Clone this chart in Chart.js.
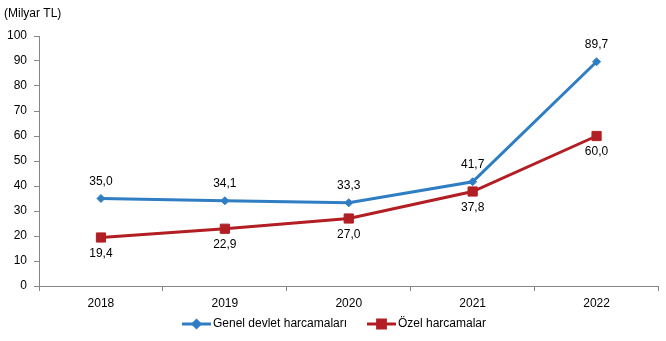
<!DOCTYPE html>
<html lang="tr">
<head>
  <meta charset="UTF-8" />
  <title>Harcamalar</title>
  <style>
    html, body {
      margin: 0;
      padding: 0;
      background: #fff;
    }
    #wrap {
      width: 666px;
      height: 341px;
      position: relative;
    }
  </style>
</head>
<body>
  <div id="wrap"><canvas id="chart"></canvas></div>

  <script src="https://cdn.jsdelivr.net/npm/chart.js"></script>
  <script>
    const years = ['2018', '2019', '2020', '2021', '2022'];
    const genelDevlet = [35.0, 34.1, 33.3, 41.7, 89.7];
    const ozel = [19.4, 22.9, 27.0, 37.8, 60.0];
    const seriesNames = ['Genel devlet harcamaları', 'Özel harcamalar'];
    const unitLabel = '(Milyar TL)';

    const blue = '#2f7dc2';
    const red = '#b21e23';
    const font = 'Liberation Sans, Arial, Helvetica, sans-serif';

    Chart.defaults.font.family = font;
    Chart.defaults.font.size = 12;
    Chart.defaults.color = '#000';

    function fmt(v) {
      return v.toFixed(1).replace('.', ',');
    }

    // value labels: blue above the point, red below
    const valueLabels = {
      id: 'valueLabels',
      afterDatasetsDraw(chart) {
        const ctx = chart.ctx;
        ctx.save();
        ctx.font = '12px ' + font;
        ctx.fillStyle = '#000';
        ctx.textAlign = 'center';
        ctx.textBaseline = 'middle';
        chart.data.datasets.forEach((ds, i) => {
          const meta = chart.getDatasetMeta(i);
          meta.data.forEach((pt, j) => {
            const dy = i === 0 ? -17 : 16;
            ctx.fillText(fmt(ds.data[j]), pt.x, pt.y + dy);
          });
        });
        ctx.restore();
      }
    };

    // unit text and legend with line + marker
    const extras = {
      id: 'extras',
      afterDraw(chart) {
        const ctx = chart.ctx;
        ctx.save();
        ctx.font = '12px ' + font;
        ctx.fillStyle = '#000';
        ctx.textBaseline = 'middle';
        ctx.textAlign = 'left';
        ctx.fillText(unitLabel, 4, 14);

        const y = 324;
        const items = [
          { x: 182, color: blue, style: 'rectRot', r: 3.5, text: seriesNames[0] },
          { x: 367, color: red, style: 'rect', r: 5.5, text: seriesNames[1] }
        ];
        items.forEach(it => {
          ctx.strokeStyle = it.color;
          ctx.lineWidth = 3;
          ctx.beginPath();
          ctx.moveTo(it.x, y);
          ctx.lineTo(it.x + 29, y);
          ctx.stroke();
          ctx.fillStyle = it.color;
          Chart.helpers.drawPoint(ctx, { pointStyle: it.style, radius: it.r, borderWidth: 1 }, it.x + 14.5, y);
          ctx.fillStyle = '#000';
          ctx.fillText(it.text, it.x + 31, y);
        });
        ctx.restore();
      }
    };

    new Chart(document.getElementById('chart'), {
      type: 'line',
      data: {
        labels: years,
        datasets: [
          {
            label: seriesNames[0],
            data: genelDevlet,
            borderColor: blue,
            backgroundColor: blue,
            borderWidth: 3,
            pointStyle: 'rectRot',
            pointRadius: 4,
            pointBorderWidth: 1,
            tension: 0
          },
          {
            label: seriesNames[1],
            data: ozel,
            borderColor: red,
            backgroundColor: red,
            borderWidth: 3,
            pointStyle: 'rect',
            pointRadius: 6.5,
            pointBorderWidth: 1,
            tension: 0
          }
        ]
      },
      options: {
        responsive: true,
        maintainAspectRatio: false,
        animation: false,
        layout: { padding: { top: 36, right: 6, left: 0, bottom: 0 } },
        plugins: {
          legend: { display: false },
          tooltip: { enabled: false }
        },
        scales: {
          x: {
            offset: true,
            grid: { offset: true, drawOnChartArea: false, tickLength: 5, color: '#868686' },
            border: { color: '#868686' },
            ticks: { padding: 5, font: { size: 12 } },
            afterFit(scale) { scale.height = 55; }
          },
          y: {
            min: 0,
            max: 100,
            ticks: { stepSize: 10, padding: 7, font: { size: 12 } },
            grid: { drawOnChartArea: false, tickLength: 5, color: '#868686' },
            border: { color: '#868686' },
            afterFit(scale) { scale.width = 39; }
          }
        }
      },
      plugins: [valueLabels, extras]
    });
  </script>
</body>
</html>
